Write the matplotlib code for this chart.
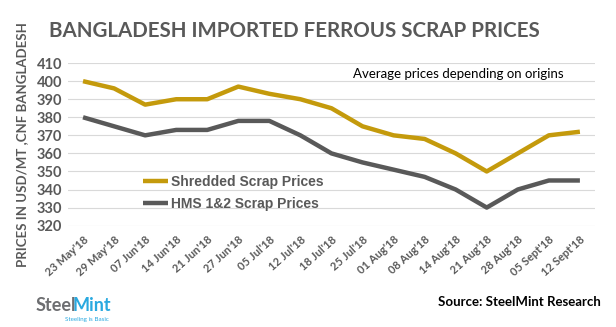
import matplotlib
matplotlib.use("Agg")
import matplotlib.pyplot as plt

# data
dates = ["23 May'18", "29 May'18", "07 Jun'18", "14 Jun'18", "21 Jun'18", "27 Jun'18",
         "05 Jul'18", "12 Jul'18", "18 Jul'18", "25 Jul'18", "01 Aug'18", "08 Aug'18",
         "14 Aug'18", "21 Aug'18", "28 Aug'18", "05 Sept'18", "12 Sept'18"]
shredded = [400, 396, 387, 390, 390, 397, 393, 390, 385, 375, 370, 368, 360, 350, 360, 370, 372]
hms = [380, 375, 370, 373, 373, 378, 378, 370, 360, 355, 351, 347, 340, 330, 340, 345, 345]
yticks = [320, 330, 340, 350, 360, 370, 380, 390, 400, 410]

gold = "#C49A0C"
dark = "#595959"
plt.rcParams['font.family'] = ['Lato', 'DejaVu Sans']

fig = plt.figure(figsize=(6.16, 3.27), dpi=100)
ax = fig.add_axes([0.1096, 0.31, 0.857, 0.497])

x = list(range(len(dates)))
ax.plot(x, shredded, color=gold, lw=3.2, label="Shredded Scrap Prices", solid_capstyle='butt')
ax.plot(x, hms, color=dark, lw=3.2, label="HMS 1&2 Scrap Prices", solid_capstyle='butt')

ax.set_xlim(-0.5, len(dates) - 0.5)
ax.set_ylim(320, 410)
ax.set_yticks(yticks)
ax.set_yticklabels([str(v) for v in yticks], fontsize=10.5, fontweight='bold', color=dark)
ax.set_xticks(x)
ax.set_xticklabels(dates, rotation=42, ha='right', rotation_mode='anchor',
                   fontsize=8, color=dark, fontweight='bold')
ax.tick_params(length=0, pad=4)
ax.tick_params(axis='x', pad=6)
ax.grid(axis='y', color='#D9D9D9', lw=0.8)
ax.set_axisbelow(True)
for s in ax.spines.values():
    s.set_visible(False)

ax.set_ylabel("PRICES IN USD/MT ,CNF BANGLADESH", fontsize=9.5, fontweight='bold', color=dark, labelpad=6)

leg = ax.legend(loc='lower left', bbox_to_anchor=(0.12, 0.015), frameon=False,
                handlelength=1.8, handletextpad=0.2, labelspacing=0.55,
                prop={'family': 'Liberation Sans', 'weight': 'bold', 'size': 10})
for t in leg.get_texts():
    t.set_color(dark)

ax.text(0.94, 0.97, "Average prices depending on origins", transform=ax.transAxes,
        ha='right', va='top', fontsize=9.5, color='black')

fig.text(0.08, 0.905, "BANGLADESH IMPORTED FERROUS SCRAP PRICES", fontsize=14.8,
         fontweight='bold', color=dark, va='center')

# logo and source
fig.text(0.057, 0.065, "Steel", fontsize=13, fontweight='bold', color='#6D6E71', va='center')
fig.text(0.118, 0.065, "Mint", fontsize=13, fontweight='bold', color='#29A9E0', va='center')
fig.text(0.105, 0.022, "Steeling is Basic", fontsize=4.5, color='#29A9E0', va='center')
fig.text(0.975, 0.075, "Source: SteelMint Research", fontsize=9.5, fontweight='bold',
         color='black', ha='right', va='center')

fig.savefig("out.png", dpi=100)
